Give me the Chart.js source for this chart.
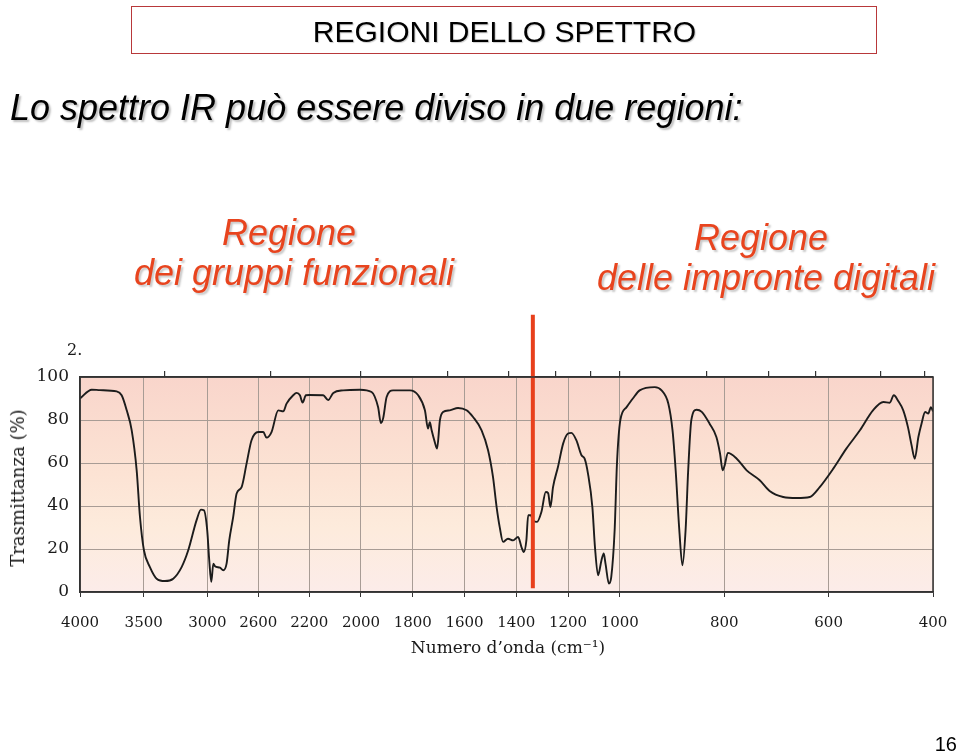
<!DOCTYPE html>
<html><head><meta charset="utf-8">
<script src="https://cdn.jsdelivr.net/npm/chart.js@4"></script>
<style>
html,body{margin:0;padding:0;background:#fff;width:959px;height:754px;overflow:hidden;}
#wrap{position:relative;width:959px;height:754px;}
canvas{position:absolute;left:0;top:0;}
.t{position:absolute;white-space:nowrap;line-height:1;}
.sans{font-family:"Liberation Sans",Arial,sans-serif;}
.serif{font-family:"DejaVu Serif",serif;color:#1a1a1a;}
.red{color:#e8441e;font-style:italic;font-size:36px;text-shadow:2px 2px 2px rgba(0,0,0,0.22);transform:translateX(-50%);}
</style></head>
<body><div id="wrap">
<canvas id="c" width="959" height="754"></canvas>
<div style="position:absolute;left:131px;top:6px;width:744px;height:46px;border:1px solid #b8383a;"></div>
<div class="t sans" style="left:504.5px;transform:translateX(-50%);top:16.6px;font-size:30px;color:#000;text-shadow:1px 1px 1px rgba(0,0,0,0.2)">REGIONI DELLO SPETTRO</div>
<div class="t sans" style="left:10px;top:89.5px;font-size:36px;font-style:italic;color:#000;text-shadow:2px 2px 2px rgba(0,0,0,0.25)">Lo spettro IR può essere diviso in due regioni:</div>
<div class="t sans red" style="left:289px;top:214.5px;">Regione</div>
<div class="t sans red" style="left:294px;top:254.5px;">dei gruppi funzionali</div>
<div class="t sans red" style="left:761px;top:219.5px;">Regione</div>
<div class="t sans red" style="left:766px;top:259.5px;">delle impronte digitali</div>
<div class="t sans" style="right:2px;top:734px;font-size:20px;color:#000;">16</div>
<div class="t serif" style="left:67px;top:342px;font-size:16px;">2.</div>
<div class="t serif" style="left:508px;transform:translateX(-50%);top:639px;font-size:17px;">Numero d’onda (cm⁻¹)</div>
<div class="t serif" style="left:18px;top:488px;font-size:18px;transform:translate(-50%,-50%) rotate(-90deg);">Trasmittanza (%)</div>
</div>
<script>
// ---- data ----
const WAVENUMBERS = [4000,3908,3843,3712,3673,3633,3594,3555,3529,3498,3451,3398,3333,3268,3202,3150,3085,3050,3027,3001,2985,2969,2953,2940,2901,2875,2849,2828,2797,2770,2731,2692,2653,2600,2561,2535,2496,2443,2404,2378,2326,2299,2273,2252,2226,2200,2146,2127,2107,2069,2004,1959,1934,1923,1914,1901,1876,1811,1779,1753,1741,1734,1727,1715,1706,1695,1683,1657,1625,1592,1567,1534,1509,1490,1476,1464,1451,1432,1412,1393,1380,1371,1361,1354,1344,1335,1320,1303,1286,1277,1268,1258,1239,1219,1200,1187,1168,1148,1136,1123,1106,1096,1084,1071,1062,1055,1042,1033,1020,1011,999,987,975,962,933,920,907,899,893,886,880,874,869,863,853,843,828,815,808,803,799,793,776,757,732,713,687,661,636,617,591,566,540,515,495,483,475,467,457,448,441,435,428,422,415,409,404,400];
const TRANSMITTANCE = [90,94.1,93.9,93.3,91.5,84.5,75.2,56.6,34.9,19.4,11.6,6.2,5.1,6.2,11.6,19.4,33.3,38.3,38,28.7,14.7,4.7,13.2,12,11.3,10.1,13.2,24,34.9,45.8,48.8,59.7,70.6,74.4,74.4,71.8,74.4,84.5,84,87.6,91.5,92.6,91.5,88.1,91.5,91.6,91.5,89.3,92.6,93.8,94.1,93,86,78.6,81,90.7,93.8,93.8,91.5,84.5,76,79,75.2,69.8,66.7,79.9,83.7,84.5,85.6,84.5,81.4,75.2,65.9,53.5,39.5,30.2,23.3,24.8,24,25.6,20.9,18.6,24,35.7,35.7,33.3,32.6,37.2,46.5,46,39.5,48.8,58.1,69,73.7,74,70.6,63.6,62,55.1,39.5,20.9,7.8,14.7,17.9,13,3.9,7,28.7,59.7,79.9,86,90,93.8,95.3,93.8,87.6,75.2,56.6,28.7,12.4,28.7,56.6,79.9,84.8,83.8,78.3,72.1,64.4,56.6,59,64.7,62,56.6,52,47,44.2,43.7,44.2,48.8,57.4,66.7,75.2,84.5,88.4,88,91.5,89,84.5,76.7,68.2,62,72.1,78.3,83.7,83,86,84];
const X_TICKS = [4000,3500,3000,2600,2200,2000,1800,1600,1400,1200,1000,800,600,400];
const TOP_TICKS = [3333.3,2500,2000,1666.7,1428.6,1250,1111.1,1000,833.3,714.3,625,500,416.7];
const Y_TICKS = [0,20,40,60,80,100];
const BOUNDARY_WAVENUMBER = [1336,1336];
const BOUNDARY_Y = [1.7,129];

// ---- piecewise wavenumber axis (scale changes at 2200 and 1000 cm-1) ----
const X_SEGMENTS = [[4000,2200,229.3],[2200,1000,310.7],[1000,400,313.3]];
const X_TOTAL = X_SEGMENTS.reduce((s,g)=>s+g[2],0);
function irFrac(w){
  let acc=0;
  for(let i=0;i<X_SEGMENTS.length;i++){
    const [a,b,len]=X_SEGMENTS[i];
    if(w>=b || i===X_SEGMENTS.length-1) return (acc+(a-w)/(a-b)*len)/X_TOTAL;
    acc+=len;
  }
}
function irInv(f){
  const p=f*X_TOTAL; let acc=0;
  for(let i=0;i<X_SEGMENTS.length;i++){
    const [a,b,len]=X_SEGMENTS[i];
    if(p<=acc+len || i===X_SEGMENTS.length-1) return a-(p-acc)/len*(a-b);
    acc+=len;
  }
}
class IRScale extends Chart.LinearScale {
  getPixelForValue(v){ return this.getPixelForDecimal(irFrac(v)); }
  getValueForPixel(p){ return irInv(this.getDecimalForPixel(p)); }
}
IRScale.id='irscale';
IRScale.defaults=Chart.LinearScale.defaults;
Chart.register(IRScale);

const bgPlugin={
  id:'bg',
  beforeDraw(chart){
    const {ctx,chartArea:a}=chart;
    const g=ctx.createLinearGradient(0,a.top,0,a.bottom);
    g.addColorStop(0,'#f9d5cb');
    g.addColorStop(0.45,'#fce3d4');
    g.addColorStop(0.7,'#fdebdc');
    g.addColorStop(1,'#fcece9');
    ctx.save();ctx.fillStyle=g;ctx.fillRect(a.left,a.top,a.right-a.left,a.bottom-a.top);ctx.restore();
  },
  afterDatasetsDraw(chart){
    const {ctx,chartArea:a}=chart;
    ctx.save();ctx.strokeStyle='#333';ctx.lineWidth=1.5;
    ctx.strokeRect(a.left,a.top,a.right-a.left,a.bottom-a.top);ctx.restore();
  }
};

const spectrum = WAVENUMBERS.map((w,i)=>({x:w,y:TRANSMITTANCE[i]}));
const boundary = BOUNDARY_WAVENUMBER.map((w,i)=>({x:w,y:BOUNDARY_Y[i]}));
const noPad = s=>{s.paddingLeft=0;s.paddingRight=0;};

new Chart(document.getElementById('c'),{
  type:'line',
  data:{datasets:[
    {data:spectrum,borderColor:'#1c1c1c',borderWidth:1.9,pointRadius:0,cubicInterpolationMode:'monotone',fill:false,order:2},
    {data:boundary,borderColor:'#e8401c',borderWidth:4,pointRadius:0,clip:false,fill:false,order:1}
  ]},
  options:{
    responsive:false,animation:false,
    layout:{padding:{left:0,top:377,right:26,bottom:0}},
    plugins:{legend:{display:false},tooltip:{enabled:false}},
    scales:{
      x:{type:'irscale',position:'bottom',min:400,max:4000,
        afterBuildTicks:s=>{s.ticks=X_TICKS.map(v=>({value:v}));},
        afterFit:s=>{s.height=162;noPad(s);},
        ticks:{autoSkip:false,maxRotation:0,padding:17,color:'#1a1a1a',font:{family:'DejaVu Serif',size:15},callback:v=>String(v)},
        grid:{color:'#a89c95',lineWidth:1,tickLength:5,tickColor:'#333'},
        border:{display:true,color:'#333',width:1.5}
      },
      x2:{type:'irscale',position:'top',min:400,max:4000,
        afterBuildTicks:s=>{s.ticks=TOP_TICKS.map(v=>({value:v}));},
        afterFit:s=>{s.height=0;noPad(s);},
        ticks:{autoSkip:false,callback:()=>''},
        grid:{drawOnChartArea:false,tickLength:6,color:'#333',lineWidth:1.2},
        border:{display:true,color:'#333',width:1.5}
      },
      y:{min:0,max:100,
        afterBuildTicks:s=>{s.ticks=Y_TICKS.map(v=>({value:v}));},
        afterFit:s=>{s.width=80;s.paddingTop=0;s.paddingBottom=0;},
        ticks:{padding:11,color:'#1a1a1a',font:{family:'DejaVu Serif',size:17}},
        grid:{color:'#a89c95',lineWidth:1,drawTicks:false},
        border:{display:true,color:'#333',width:1.5}
      }
    }
  },
  plugins:[bgPlugin]
});
</script>
</body></html>
